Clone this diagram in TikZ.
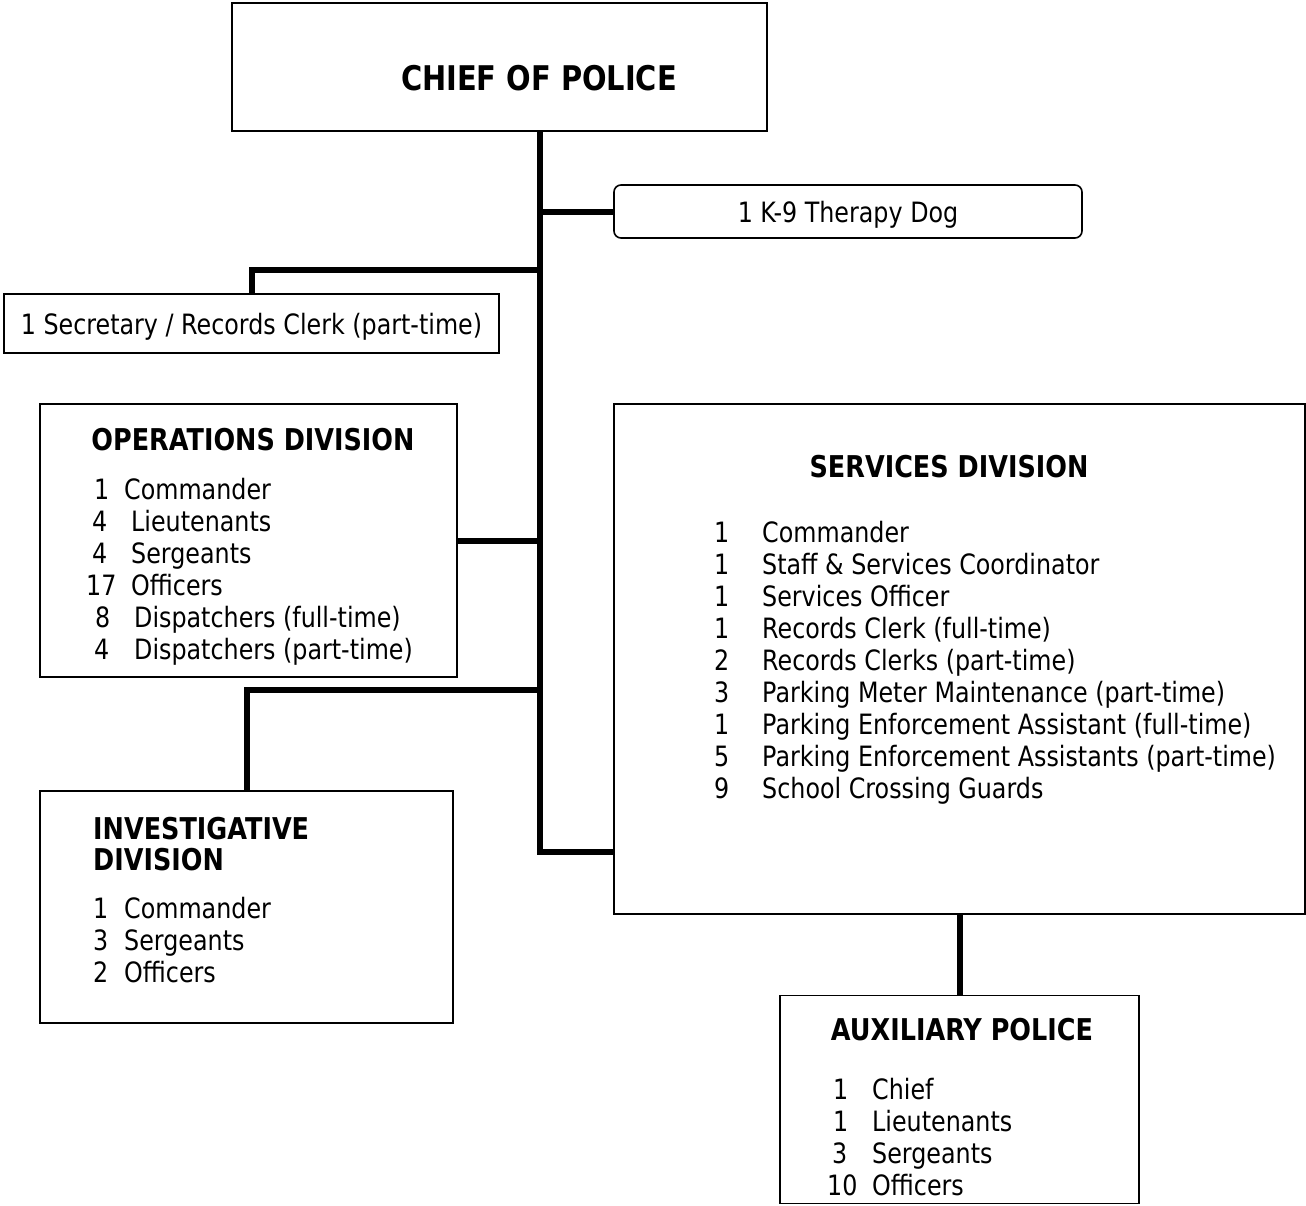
\documentclass[tikz,border=0pt]{standalone}
\usepackage{fontspec}
\setmainfont{DejaVu Sans}[FakeStretch=0.85]
\usetikzlibrary{positioning}
\tikzset{
	unit/.style={draw, line width=1.6pt, inner sep=0pt},
	link/.style={line width=6pt, line join=miter},
	txt/.style={inner sep=0pt, font=\fontsize{28}{32}\selectfont},
	head/.style={inner sep=0pt, font=\fontsize{30}{31}\selectfont\bfseries}
}

\begin{document}
\begin{tikzpicture}[x=1pt, y=-1pt]
		\useasboundingbox (0,0) rectangle (1306,1205);

		% Boxes
		\node[unit, minimum width=535pt, minimum height=128pt] (chief) at (499.5,67) {};
		\node[unit, rounded corners=7pt, minimum width=468pt, minimum height=53pt, text depth=0pt, font=\fontsize{28}{32}\selectfont] (dog) at (848,211.5) {1 K-9 Therapy Dog};
		\node[unit, minimum width=495pt, minimum height=59pt, text depth=0pt, font=\fontsize{28}{32}\selectfont] (secretary) at (251.5,323.5) {1 Secretary / Records Clerk (part-time)};
		\node[unit, minimum width=417pt, minimum height=273pt] (ops) at (248.5,540.5) {};
		\node[unit, minimum width=413pt, minimum height=232pt] (inv) at (246.5,907) {};
		\node[unit, minimum width=691pt, minimum height=510pt] (svc) at (959.5,659) {};
		\node[unit, minimum width=359pt, minimum height=208pt, below=80pt of svc] (aux) {};

		% Trunk joints
		\coordinate (top) at (540,131);
		\coordinate (jdog) at (540,211.5);
		\coordinate (jsec) at (540,270);
		\coordinate (jinv) at (540,690);
		\coordinate (jsvc) at (540,852);

		% Connectors
		\draw[link] (top) -- (jsvc) -- (jsvc -| svc.west);
		\draw[link] (jdog) -- (dog.west);
		\draw[link] (jsec) -| (secretary.north);
		\draw[link] (ops.east) -- (ops.east -| top);
		\draw[link] (jinv) -| (inv.north);
		\draw[link] (svc.south) -- (aux.north);

		% Titles
		\node[head, font=\fontsize{34}{38}\selectfont\bfseries] (chieftxt) at (539,78) {CHIEF OF POLICE};
		\node[head] (opstxt) at (253,440) {OPERATIONS DIVISION};
		\node[head, align=left, anchor=north west] (invtxt) at (93,817) {INVESTIGATIVE\\DIVISION};
		\node[head] (svctxt) at (949,467) {SERVICES DIVISION};
		\node[head] (auxtxt) at (962,1030) {AUXILIARY POLICE};

		% Operations staff
		\foreach \n/\xn/\t/\xt [count=\i] in {1/94/Commander/124, 4/92/Lieutenants/131, 4/92/Sergeants/131, 17/86/Officers/131, 8/95/Dispatchers (full-time)/134, 4/94/Dispatchers (part-time)/134} {
			\node[txt, anchor=base west] (opsn\i) at ({\xn},{499+32*(\i-1)}) {\n};
			\node[txt, anchor=base west] (opst\i) at ({\xt},{499+32*(\i-1)}) {\t};
		}

		% Investigative staff
		\foreach \n/\t [count=\i] in {1/Commander, 3/Sergeants, 2/Officers} {
			\node[txt, anchor=base west] (invn\i) at ({93},{918+32*(\i-1)}) {\n};
			\node[txt, anchor=base west] (invt\i) at ({124},{918+32*(\i-1)}) {\t};
		}

		% Services staff
		\foreach \n/\t [count=\i] in {1/Commander, 1/Staff \& Services Coordinator, 1/Services Officer, 1/Records Clerk (full-time), 2/Records Clerks (part-time), 3/Parking Meter Maintenance (part-time), 1/Parking Enforcement Assistant (full-time), 5/Parking Enforcement Assistants (part-time), 9/School Crossing Guards} {
			\node[txt, anchor=base west] (svcn\i) at ({714},{542+32.1*(\i-1)}) {\n};
			\node[txt, anchor=base west] (svct\i) at ({762},{542+32.1*(\i-1)}) {\t};
		}

		% Auxiliary staff
		\foreach \n/\xn/\t [count=\i] in {1/833/Chief, 1/833/Lieutenants, 3/832/Sergeants, 10/827/Officers} {
			\node[txt, anchor=base west] (auxn\i) at ({\xn},{1099+32*(\i-1)}) {\n};
			\node[txt, anchor=base west] (auxt\i) at ({872},{1099+32*(\i-1)}) {\t};
		}
\end{tikzpicture}
\end{document}
